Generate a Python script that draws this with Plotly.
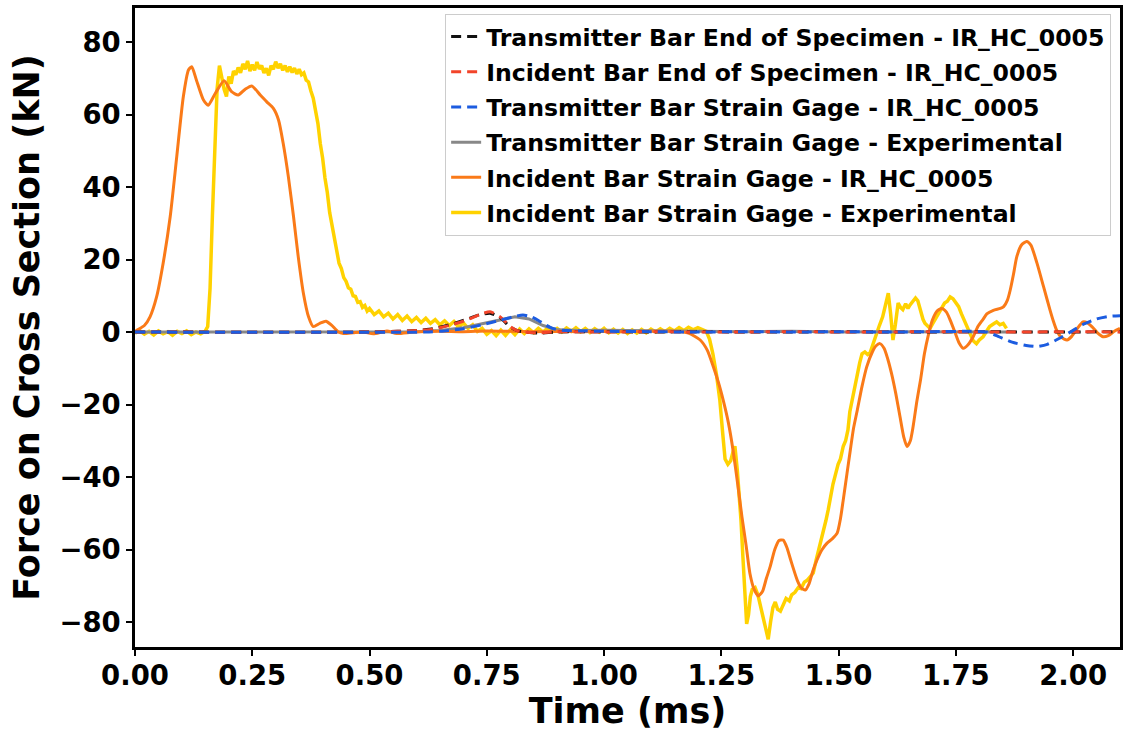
import plotly.graph_objects as go

# ---------------- data ----------------
# Incident Bar Strain Gage - Experimental (yellow)
t_inc_exp = [0.00, 0.01, 0.02, 0.03, 0.04, 0.05, 0.06, 0.07, 0.08, 0.09, 0.10, 0.11, 0.12, 0.13, 0.14, 0.15,
             0.155, 0.16, 0.165, 0.17, 0.175, 0.18, 0.185, 0.19, 0.195, 0.20, 0.205, 0.21, 0.215, 0.22, 0.225,
             0.23, 0.235, 0.24, 0.245, 0.25, 0.255, 0.26, 0.265, 0.27, 0.275, 0.28, 0.285, 0.29, 0.295, 0.30,
             0.305, 0.31, 0.315, 0.32, 0.325, 0.33, 0.335, 0.34, 0.345, 0.35, 0.355, 0.36, 0.365, 0.37, 0.375,
             0.38, 0.385, 0.39, 0.395, 0.40, 0.405, 0.41, 0.415, 0.42, 0.425, 0.43, 0.435, 0.44, 0.445, 0.45,
             0.455, 0.46, 0.465, 0.47, 0.475, 0.48, 0.485, 0.49, 0.495, 0.50, 0.51, 0.52, 0.53, 0.54, 0.55,
             0.56, 0.57, 0.58, 0.59, 0.60, 0.61, 0.62, 0.63, 0.64, 0.65, 0.66, 0.67, 0.68, 0.69, 0.70, 0.71,
             0.72, 0.73, 0.74, 0.75, 0.76, 0.77, 0.78, 0.79, 0.80, 0.81, 0.82, 0.83, 0.84, 0.85, 0.86, 0.87,
             0.88, 0.89, 0.90, 0.91, 0.92, 0.93, 0.94, 0.95, 0.96, 0.97, 0.98, 0.99, 1.00, 1.01, 1.02, 1.03,
             1.04, 1.05, 1.06, 1.07, 1.08, 1.09, 1.10, 1.11, 1.12, 1.13, 1.14, 1.15, 1.16, 1.17, 1.18, 1.19,
             1.20, 1.21, 1.218, 1.225, 1.232, 1.24, 1.247, 1.253, 1.258, 1.264, 1.27, 1.275, 1.279, 1.284,
             1.288, 1.292, 1.296, 1.30, 1.304, 1.308, 1.312, 1.316, 1.322, 1.328, 1.334, 1.34, 1.345, 1.35,
             1.355, 1.36, 1.365, 1.37, 1.376, 1.382, 1.388, 1.395, 1.40, 1.407, 1.414, 1.42, 1.427, 1.433,
             1.44, 1.446, 1.452, 1.458, 1.463, 1.468, 1.473, 1.478, 1.483, 1.488, 1.494, 1.499, 1.504, 1.51,
             1.515, 1.52, 1.524, 1.529, 1.534, 1.539, 1.545, 1.55, 1.556, 1.562, 1.567, 1.573, 1.58, 1.587,
             1.594, 1.60, 1.606, 1.611, 1.616, 1.621, 1.627, 1.632, 1.637, 1.643, 1.648, 1.652, 1.658, 1.664,
             1.669, 1.675, 1.68, 1.684, 1.69, 1.695, 1.70, 1.705, 1.712, 1.72, 1.726, 1.732, 1.738, 1.744,
             1.75, 1.756, 1.762, 1.768, 1.773, 1.78, 1.787, 1.794, 1.80, 1.808, 1.815, 1.822, 1.83, 1.837,
             1.844, 1.851, 1.858]
f_inc_exp = [-0.3, 0.4, -0.6, 0.2, -0.8, 0.3, -0.5, 0.1, -0.9, 0.2, -0.4, 0.3, -0.7, 0.0, -0.5, 0.3,
             1.5, 12, 32, 52, 67, 73.5, 70, 67, 65, 70.5, 68.5, 72, 71, 73, 71.5,
             74, 72.5, 74.8, 72, 73.8, 72.2, 74.5, 72.6, 73.5, 71.5, 72.8, 70.8, 73.5, 72.5, 74.6,
             72.8, 74, 72.2, 73.5, 71.8, 73.2, 71.6, 72.8, 71.2, 72.5, 71, 71.5, 69.5, 69, 66.5,
             64.5, 61, 57.5, 52, 48, 42.5, 38.5, 33, 29.5, 25, 22.5, 19, 17.5, 15, 14,
             12.2, 11.8, 10, 9.8, 8.2, 8.4, 6.8, 7.3, 5.8, 6.5, 4.8, 5.8, 4.2, 5.2, 3.6,
             4.8, 3.2, 4.4, 2.9, 4.0, 2.6, 3.8, 2.4, 3.4, 2.0, 3.1, 1.8, 2.9, 1.4, 2.5, 1.0,
             2.0, 0.2, 1.0, -0.6, 0.4, -1.0, 0.5, -0.9, 0.6, -0.7, 0.8, -0.4, 0.9, -0.2, 1.0, 0.0,
             1.1, 0.1, 1.0, 0.0, 1.1, 0.2, 1.2, 0.1, 1.0, -0.1, 0.9, 0.0, 1.0, -0.2, 0.8, -0.3,
             0.7, -0.4, 0.6, -0.3, 0.7, -0.2, 0.8, 0.0, 0.9, 0.1, 1.0, 0.3, 1.2, 0.4, 1.3, 0.6,
             1.2, 0.5, 0.2, -2, -6, -12, -19, -28, -35, -36.5, -35.5, -33, -31.5, -38,
             -44, -52, -62, -72, -80.5, -78, -73, -71, -70.5, -72.5, -76, -79.5, -82, -84.8,
             -80, -76, -74.5, -76.5, -77, -75, -73.5, -74.2, -72.5, -71.8, -70.5, -70.8, -69, -68.5,
             -67.2, -66.5, -63, -60, -57.5, -55, -52, -49, -45, -42, -39, -36.5, -35, -31.5,
             -30, -27, -22, -18.5, -15.5, -11.5, -8.5, -6, -5.5, -6.2, -5.8, -3.5, -0.5, 1.8,
             4.2, 7.5, 10.7, 5, -2.2, 2, 8, 6.8, 6.2, 7.8, 6.5, 7.4, 8.5, 9.4,
             8.6, 5.5, 3.5, 2.4, 1.5, 1, 2.2, 3.3, 4.5, 6.5, 8, 8.5, 9.7, 9.2,
             8.2, 7, 5, 3.2, 1.5, -0.5, -2.4, -3.2, -2.2, -1.3, 0.2, 1.5, 2.2, 2.8,
             2.0, 2.4, 1.0]

# Transmitter Bar Strain Gage - Experimental (gray)
t_tra_exp = [0.0, 0.3, 0.6, 0.65, 0.70, 0.74, 0.78, 0.81, 0.84, 0.87, 0.90, 0.95, 1.0, 1.1, 1.2, 1.3,
             1.4, 1.5, 1.6, 1.7, 1.8, 1.86]
f_tra_exp = [0.0, 0.1, 0.1, 0.4, 1.2, 2.3, 3.5, 4.2, 3.6, 1.8, 0.6, 0.4, 0.5, 0.3, 0.2, 0.1,
             0.2, 0.0, 0.1, 0.0, 0.1, 0.0]

# Incident Bar Strain Gage - IR_HC_0005 (orange)
t_inc_ir = [0.0, 0.004, 0.02, 0.032, 0.046, 0.060, 0.075, 0.089, 0.103, 0.114, 0.121, 0.131, 0.146,
            0.156, 0.171, 0.190, 0.206, 0.220, 0.235, 0.249, 0.267, 0.281, 0.295, 0.306, 0.316, 0.327,
            0.338, 0.348, 0.359, 0.370, 0.380, 0.394, 0.407, 0.419, 0.433, 0.444, 0.465, 0.487, 0.508,
            0.537, 0.558, 0.594, 0.65, 0.70, 0.75, 0.80, 0.85, 0.90, 0.95, 1.0, 1.05, 1.10, 1.15, 1.18,
            1.205, 1.22, 1.233, 1.244, 1.254, 1.265, 1.275, 1.285, 1.294, 1.303, 1.311, 1.32, 1.329,
            1.338, 1.346, 1.354, 1.364, 1.373, 1.382, 1.39, 1.397, 1.403, 1.412, 1.42, 1.429, 1.437,
            1.445, 1.454, 1.465, 1.475, 1.487, 1.497, 1.504, 1.51, 1.518, 1.525, 1.532, 1.54, 1.55,
            1.56, 1.572, 1.58, 1.588, 1.597, 1.605, 1.613, 1.622, 1.631, 1.639, 1.646, 1.653, 1.659,
            1.667, 1.675, 1.683, 1.692, 1.70, 1.71, 1.72, 1.73, 1.738, 1.748, 1.757, 1.766, 1.776,
            1.787, 1.797, 1.808, 1.816, 1.83, 1.845, 1.852, 1.86, 1.866, 1.873, 1.88, 1.89, 1.901,
            1.91, 1.923, 1.937, 1.951, 1.958, 1.965, 1.975, 1.987, 1.997, 2.008, 2.021, 2.03, 2.04,
            2.052, 2.064, 2.075, 2.088, 2.1]
f_inc_ir = [0.0, 0.5, 1.8, 4.2, 9.7, 19, 31.8, 48.4, 64.9, 72.3, 73.2, 69.5, 64,
            62.6, 65.8, 69.3, 66.3, 65.4, 67, 67.9, 65.4, 63.5, 61.7, 58.5, 52, 42.8,
            31.8, 20.8, 10.7, 4.2, 1.5, 2.4, 3.0, 1.9, 0.1, -0.4, -0.2, 0.0, -0.5,
            0.3, -0.4, 0.0, 0.2, 0.1, 0.3, 0.2, 0.1, 0.2, 0.1, 0.2, 0.1, 0.2, 0.2, -0.3,
            -2.2, -5, -9.6, -14, -18.8, -25, -32.6, -42, -51, -59, -66.6, -71, -72.8,
            -71.5, -68, -64.8, -60, -57.5, -57.4, -59.5, -62.5, -65, -68.5, -70.5, -71.2, -69.5,
            -66, -62.9, -60, -58.3, -57, -55.5, -51.5, -46.3, -39, -32.6, -26.5, -21.5, -15,
            -9.6, -5.5, -3.8, -3.2, -4.5, -7.5, -11.5, -17, -23.4, -29, -31.6, -30, -26,
            -19, -13, -6, -0.5, 3.3, 5.8, 6.5, 5.5, 3.3, 0, -3, -4.5, -3.5,
            -1.3, 1.5, 3.5, 5, 6, 6.5, 7, 8.8, 11.6, 16, 20.8, 24, 25,
            24, 19, 12.5, 6, 3, 0.5, -1.5, -2.2, -1.2, 0.8, 2.8, 2.6, 1.5,
            -0.2, -1.3, -1, 0.2, 1]

# Transmitter Bar Strain Gage - IR_HC_0005 (blue dashed)
t_tra_gage_ir = [0.0, 0.62, 0.66, 0.70, 0.74, 0.78, 0.81, 0.827, 0.845, 0.86, 0.875, 0.89, 0.91, 0.95,
                 1.0, 1.1, 1.2, 1.3, 1.4, 1.5, 1.6, 1.7, 1.78, 1.816, 1.84, 1.87, 1.90, 1.923, 1.945,
                 1.97, 1.994, 2.02, 2.05, 2.075, 2.1]
f_tra_gage_ir = [0.0, 0.0, 0.3, 0.9, 2.0, 3.3, 4.3, 4.7, 4.2, 3.2, 2.0, 1.0, 0.5, 0.3,
                 0.2, 0.1, 0.0, 0.1, 0.0, 0.1, 0.0, 0.1, 0.2, 0.0, -1.2, -2.8, -3.7, -4.0, -3.4,
                 -1.8, 0.0, 2.0, 3.6, 4.3, 4.5]

# End-of-specimen series (red / black dashed)
t_end = [0.0, 0.5, 0.56, 0.6, 0.635, 0.67, 0.707, 0.735, 0.757, 0.778, 0.79, 0.80, 0.815, 0.83,
         0.86, 0.9, 1.0, 1.1, 1.2, 1.3, 1.4, 1.5, 1.6, 1.7, 1.8, 1.9, 2.0, 2.1]
f_inc_end_ir = [0.0, 0.0, 0.2, 0.4, 0.8, 1.8, 3.3, 4.8, 5.6, 4.2, 2.8, 1.5, 0.4, 0.0,
                -0.2, 0.1, 0.0, 0.1, 0.0, 0.0, 0.1, 0.0, 0.0, 0.1, 0.0, 0.0, 0.1, 0.0]
f_tra_end_ir = [0.0, 0.0, 0.2, 0.4, 0.9, 2.0, 3.5, 4.8, 5.2, 4.0, 2.6, 1.4, 0.4, 0.0,
                -0.3, 0.0, 0.1, 0.0, 0.1, 0.0, 0.0, 0.1, 0.0, 0.0, 0.1, 0.0, 0.0, 0.1]

x_ticks = [0.0, 0.25, 0.5, 0.75, 1.0, 1.25, 1.5, 1.75, 2.0]
x_tick_labels = ["0.00", "0.25", "0.50", "0.75", "1.00", "1.25", "1.50", "1.75", "2.00"]
y_ticks = [-80, -60, -40, -20, 0, 20, 40, 60, 80]

# ---------------- figure ----------------
FONT = "DejaVu Sans"
DASH = "10px,6px"

fig = go.Figure()
# draw order: experimental first, then simulations, dashed on top
fig.add_trace(go.Scatter(x=t_inc_exp, y=f_inc_exp, mode="lines", name="Incident Bar Strain Gage - Experimental",
                         line=dict(color="#ffd200", width=3.5), legendrank=6, legendgroup="g6"))
fig.add_trace(go.Scatter(x=t_tra_exp, y=f_tra_exp, mode="lines", name="Transmitter Bar Strain Gage - Experimental",
                         line=dict(color="#888888", width=3), legendrank=4, legendgroup="g4"))
fig.add_trace(go.Scatter(x=t_inc_ir, y=f_inc_ir, mode="lines", name="Incident Bar Strain Gage - IR_HC_0005",
                         line=dict(color="#fa7a18", width=3, shape="spline", smoothing=0.6), legendrank=5, legendgroup="g5"))
fig.add_trace(go.Scatter(x=t_end, y=f_tra_end_ir, mode="lines", name="Transmitter Bar End of Specimen - IR_HC_0005",
                         line=dict(color="#111111", width=3, dash=DASH, shape="spline", smoothing=0.6), legendrank=1, legendgroup="g1"))
fig.add_trace(go.Scatter(x=t_end, y=f_inc_end_ir, mode="lines", name="Incident Bar End of Specimen - IR_HC_0005",
                         line=dict(color="#f2442a", width=3, dash=DASH, shape="spline", smoothing=0.6), legendrank=2, legendgroup="g2"))
fig.add_trace(go.Scatter(x=t_tra_gage_ir, y=f_tra_gage_ir, mode="lines", name="Transmitter Bar Strain Gage - IR_HC_0005",
                         line=dict(color="#1c5ce0", width=3, dash=DASH, shape="spline", smoothing=0.6), legendrank=3, legendgroup="g3"))

axis_common = dict(
    showline=True, linecolor="black", linewidth=2.5, mirror=True,
    ticks="outside", ticklen=6, tickwidth=2, tickcolor="black",
    showgrid=False, zeroline=False,
    tickfont=dict(family=FONT, size=27.5, color="black", weight="bold"),
)

fig.update_layout(
    width=1124, height=731,
    margin=dict(l=135, r=4, t=8, b=84, autoexpand=False),
    paper_bgcolor="white", plot_bgcolor="white",
    font=dict(family=FONT, color="black"),
    showlegend=True,
    legend=dict(
        x=0.991, y=0.991, xanchor="right", yanchor="top",
        bgcolor="rgba(255,255,255,0.85)", bordercolor="#cccccc", borderwidth=1,
        font=dict(family=FONT, size=23.6, color="black", weight="bold"),
        traceorder="grouped", tracegroupgap=1.5,
    ),
    xaxis=dict(
        range=[0, 2.1], tickvals=x_ticks, ticktext=x_tick_labels,
        title=dict(text="Time (ms)", font=dict(family=FONT, size=35, color="black", weight="bold"), standoff=4),
        **axis_common,
    ),
    yaxis=dict(
        range=[-86.9, 89.4], tickvals=y_ticks,
        title=dict(text="Force on Cross Section (kN)", font=dict(family=FONT, size=35, color="black", weight="bold"), standoff=10),
        **axis_common,
    ),
)
try:
    fig.update_xaxes(ticklabelstandoff=-4)
except Exception:
    pass

fig.write_html("out.html")
